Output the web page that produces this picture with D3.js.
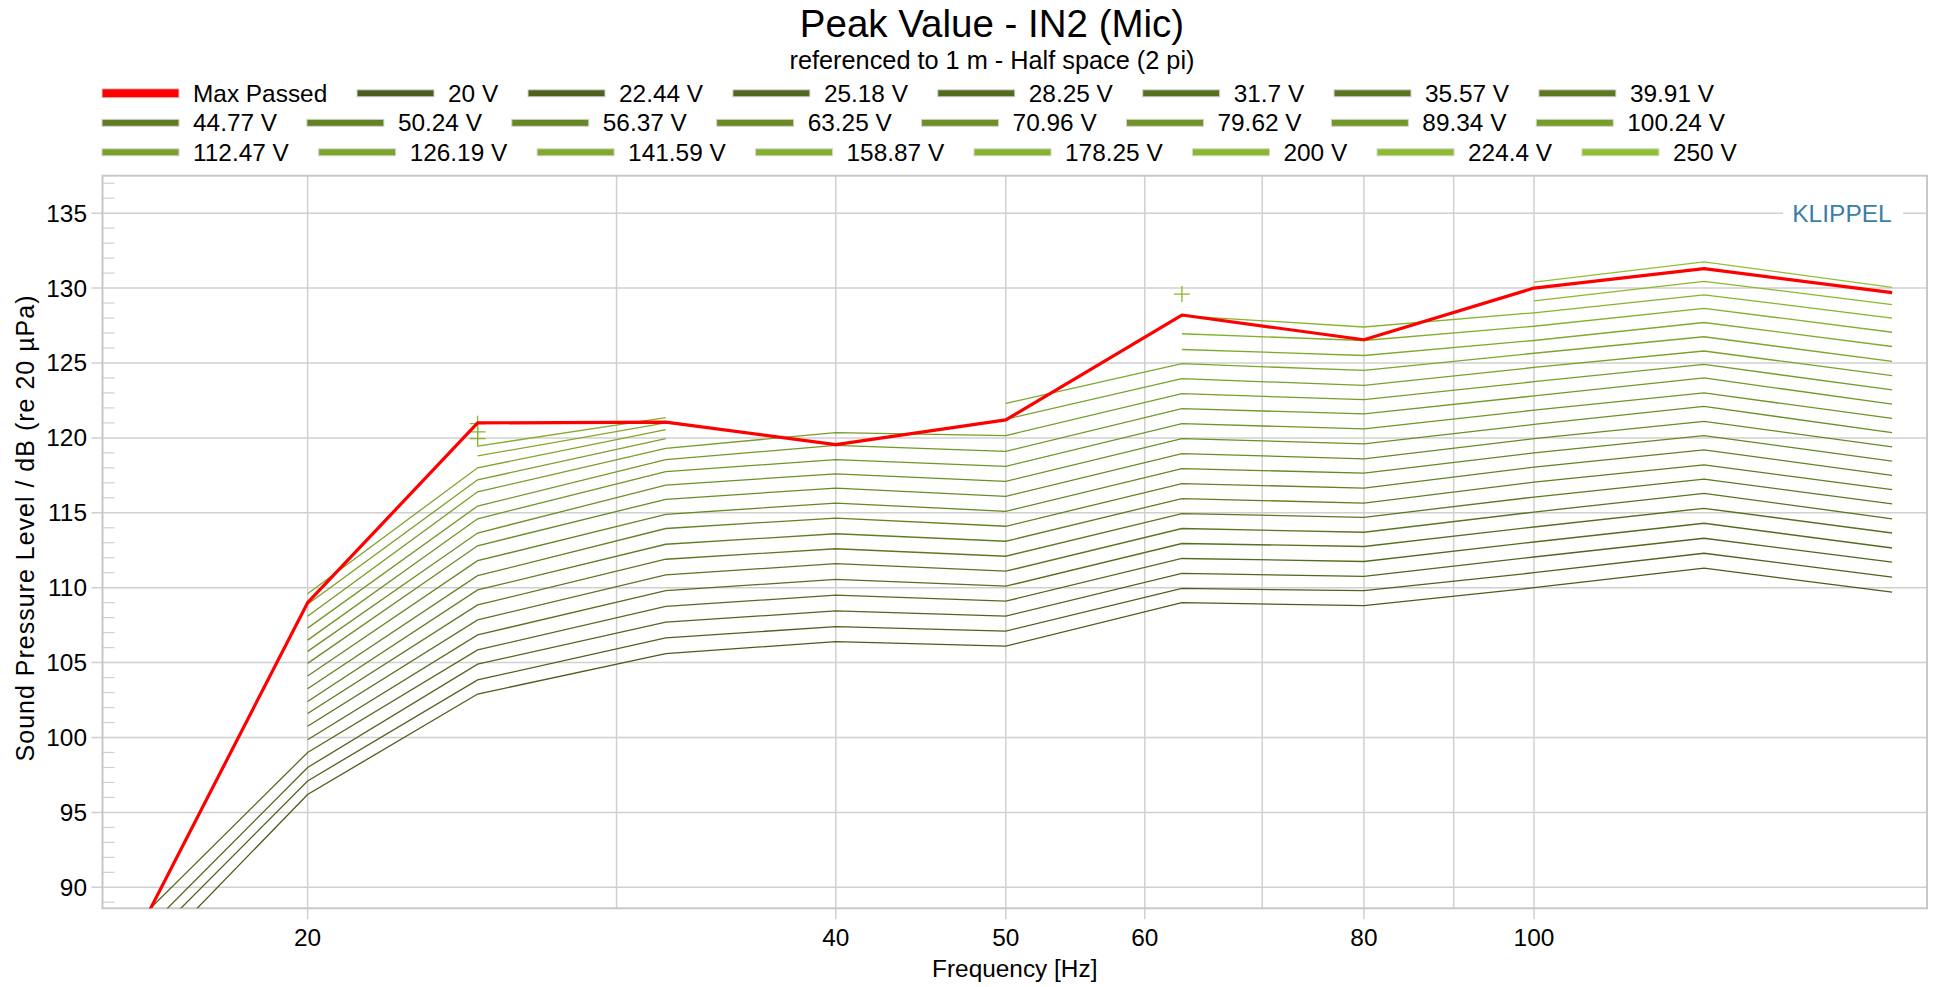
<!DOCTYPE html>
<html>
<head>
<meta charset="utf-8">
<script src="https://cdn.jsdelivr.net/npm/d3@7"></script>
<style>
  body { margin: 0; background: #fff; }
  svg { font-family: "Liberation Sans", Arial, sans-serif; }
</style>
</head>
<body>
<div id="chart"></div>
<script>
// Frequencies of the measured points (Hz)
const freqs = [16, 20, 25, 32, 40, 50, 63, 80, 100, 125, 160];

// Legend / series names
const voltages = ["20 V", "22.44 V", "25.18 V", "28.25 V", "31.7 V", "35.57 V", "39.91 V",
    "44.77 V", "50.24 V", "56.37 V", "63.25 V", "70.96 V", "79.62 V", "89.34 V", "100.24 V",
    "112.47 V", "126.19 V", "141.59 V", "158.87 V", "178.25 V", "200 V", "224.4 V", "250 V"];

// Max Passed curve (dB)
const maxPassed = [86.9, 109.0, 121.0, 121.05, 119.55, 121.2, 128.2, 126.55, 130.0, 131.3, 129.7];

// Peak SPL per voltage (dB), null = no valid measurement at that frequency
const splByVoltage = [
    [84.5, 96.2, 102.9, 105.6, 106.4, 106.1, 109.0, 108.8, 110.0, 111.3, 109.7],
    [85.7, 97.1, 103.85, 106.65, 107.4, 107.1, 109.95, 109.8, 111.0, 112.3, 110.7],
    [86.6, 98.0, 104.9, 107.7, 108.45, 108.1, 110.95, 110.75, 112.05, 113.3, 111.7],
    [87.75, 99.0, 105.85, 108.75, 109.5, 109.1, 111.95, 111.75, 113.05, 114.3, 112.65],
    [null, 99.85, 106.85, 109.8, 110.55, 110.1, 112.95, 112.75, 114.05, 115.3, 113.65],
    [null, 100.75, 107.85, 110.85, 111.6, 111.1, 113.95, 113.7, 115.05, 116.3, 114.6],
    [null, 101.6, 108.85, 111.9, 112.6, 112.1, 114.95, 114.7, 116.05, 117.25, 115.6],
    [null, 102.4, 109.85, 112.9, 113.6, 113.1, 115.95, 115.65, 117.05, 118.2, 116.55],
    [null, 103.25, 110.8, 113.95, 114.65, 114.1, 116.95, 116.65, 118.05, 119.2, 117.5],
    [null, 104.1, 111.8, 114.9, 115.65, 115.1, 117.95, 117.65, 119.0, 120.15, 118.45],
    [null, 104.95, 112.8, 115.9, 116.65, 116.1, 118.95, 118.6, 119.95, 121.1, 119.4],
    [null, 105.75, 113.65, 116.85, 117.6, 117.1, 119.95, 119.6, 120.9, 122.1, 120.35],
    [null, 106.5, 114.6, 117.75, 118.55, 118.1, 120.95, 120.6, 121.85, 123.0, 121.3],
    [null, 107.3, 115.45, 118.55, 119.5, 119.1, 121.95, 121.6, 122.8, 124.0, 122.25],
    [null, 108.1, 116.4, 119.3, 120.35, 120.15, 122.95, 122.55, 123.75, 124.9, 123.2],
    [null, 108.9, 117.2, 119.95, null, 121.25, 123.95, 123.5, 124.7, 125.8, 124.15],
    [null, 109.6, 118.0, 120.55, null, 122.3, 124.95, 124.5, 125.65, 126.75, 125.1],
    [null, null, 118.8, 121.0, null, null, 125.9, 125.5, 126.5, 127.7, 126.1],
    [null, null, 119.45, 121.35, null, null, 126.95, 126.5, 127.45, 128.65, 127.05],
    [null, null, 119.95, null, null, null, 128.15, 127.4, 128.35, 129.55, 128.0],
    [null, null, 120.4, null, null, null, 129.6, null, 129.15, 130.45, 128.9],
    [null, null, 120.95, null, null, null, null, null, 130.0, 131.3, 129.7],
    [null, null, null, null, null, null, null, null, 130.4, 131.75, 130.05]
];

// Axis ticks
const xLabelTicks = [20, 40, 50, 60, 80, 100];
const xGridTicks = [20, 30, 40, 50, 60, 70, 80, 90, 100];
const yTicks = [90, 95, 100, 105, 110, 115, 120, 125, 130, 135];

const width = 1933, height = 987;
const plot = { left: 102.5, right: 1927, top: 175.7, bottom: 908.3 };
const gridColor = "#d0d0d0";
const font = "24.4px";

const x = d3.scaleLog().domain([15.28, 167.5]).range([plot.left, plot.right]);
const y = d3.scaleLinear().domain([88.6, 137.5]).range([plot.bottom, plot.top]);
const color = i => d3.interpolateRgb("#4b5d1c", "#8fc12f")(i / (voltages.length - 1));

const svg = d3.select("#chart").append("svg")
    .attr("width", width)
    .attr("height", height);

// Titles
svg.append("text")
    .attr("x", 992).attr("y", 37)
    .attr("text-anchor", "middle")
    .style("font-size", "38.5px")
    .text("Peak Value - IN2 (Mic)");

svg.append("text")
    .attr("x", 992).attr("y", 69)
    .attr("text-anchor", "middle")
    .style("font-size", "25.3px")
    .text("referenced to 1 m - Half space (2 pi)");

// Legend (flow layout)
const legendItems = [{ name: "Max Passed", color: "#ff0000", h: 9 }]
    .concat(voltages.map((v, i) => ({ name: v, color: color(i), h: 7 })));
const legend = svg.append("g");
let lx = 102, ly = 93.3;
legendItems.forEach(item => {
    const g = legend.append("g");
    const t = g.append("text")
        .attr("x", lx + 91).attr("y", ly)
        .attr("dominant-baseline", "central")
        .style("font-size", font)
        .text(item.name);
    const w = 91 + t.node().getComputedTextLength();
    if (lx + w > 1880) {
        lx = 102; ly += 29.5;
        t.attr("x", lx + 91).attr("y", ly);
    }
    g.append("rect")
        .attr("x", lx).attr("y", ly - item.h / 2)
        .attr("width", 77).attr("height", item.h)
        .attr("fill", item.color)
        .attr("stroke", "#d4d4d4").attr("stroke-width", 1);
    lx += w + 29.8;
});

// Grid
const grid = svg.append("g");
grid.selectAll(".hg").data(yTicks).enter().append("line")
    .attr("x1", plot.left - 11).attr("x2", plot.right)
    .attr("y1", d => y(d)).attr("y2", d => y(d))
    .attr("stroke", gridColor).attr("stroke-width", 1.5);
grid.selectAll(".vg").data(xGridTicks).enter().append("line")
    .attr("x1", d => x(d)).attr("x2", d => x(d))
    .attr("y1", plot.top).attr("y2", d => xLabelTicks.includes(d) ? plot.bottom + 11 : plot.bottom)
    .attr("stroke", gridColor).attr("stroke-width", 1.5);

// minor y ticks every 1 dB
grid.selectAll(".mt").data(d3.range(89, 138).filter(d => d % 5 !== 0)).enter().append("line")
    .attr("x1", plot.left).attr("x2", plot.left + 12)
    .attr("y1", d => y(d)).attr("y2", d => y(d))
    .attr("stroke", gridColor).attr("stroke-width", 1.2);

// Frame
svg.append("rect")
    .attr("x", plot.left).attr("y", plot.top)
    .attr("width", plot.right - plot.left).attr("height", plot.bottom - plot.top)
    .attr("fill", "none").attr("stroke", "#c8c8c8").attr("stroke-width", 2);

// KLIPPEL mark
svg.append("rect")
    .attr("x", 1783).attr("y", y(135) - 15).attr("width", 120).attr("height", 30)
    .attr("fill", "#fff");
svg.append("text")
    .attr("x", 1842).attr("y", y(135))
    .attr("text-anchor", "middle").attr("dominant-baseline", "central")
    .style("font-size", "24.5px").attr("fill", "#3b7ea8")
    .text("KLIPPEL");

// Axis labels
svg.append("g").selectAll("text").data(yTicks).enter().append("text")
    .attr("x", 87).attr("y", d => y(d))
    .attr("text-anchor", "end").attr("dominant-baseline", "central")
    .style("font-size", font)
    .text(d => d);

svg.append("g").selectAll("text").data(xLabelTicks).enter().append("text")
    .attr("x", d => x(d)).attr("y", 946)
    .attr("text-anchor", "middle")
    .style("font-size", font)
    .text(d => d);

svg.append("text")
    .attr("x", (plot.left + plot.right) / 2).attr("y", 977)
    .attr("text-anchor", "middle")
    .style("font-size", font)
    .text("Frequency [Hz]");

svg.append("text")
    .attr("transform", "translate(34, 528) rotate(-90)")
    .attr("text-anchor", "middle")
    .style("font-size", "25px")
    .style("letter-spacing", "1px")
    .text("Sound Pressure Level / dB (re 20 µPa)");

// Curves
svg.append("clipPath").attr("id", "clip")
    .append("rect")
    .attr("x", plot.left).attr("y", plot.top)
    .attr("width", plot.right - plot.left).attr("height", plot.bottom - plot.top);

const plotArea = svg.append("g").attr("clip-path", "url(#clip)");

const line = d3.line()
    .defined(d => d[1] !== null)
    .x(d => x(d[0]))
    .y(d => y(d[1]));

splByVoltage.forEach((vals, i) => {
    const pts = freqs.map((f, j) => [f, vals[j]]);
    plotArea.append("path")
        .datum(pts)
        .attr("d", line)
        .attr("fill", "none")
        .attr("stroke", color(i))
        .attr("stroke-width", 1.3);

    // isolated points drawn as "+" markers
    const lonely = pts.filter((p, j) => p[1] !== null &&
        (j === 0 || vals[j - 1] === null) && (j === vals.length - 1 || vals[j + 1] === null));
    plotArea.selectAll(null).data(lonely).enter().append("path")
        .attr("d", d => `M${x(d[0]) - 8},${y(d[1])}h16M${x(d[0])},${y(d[1]) - 8}v16`)
        .attr("stroke", color(i))
        .attr("stroke-width", 1.3);
});

plotArea.append("path")
    .datum(freqs.map((f, j) => [f, maxPassed[j]]))
    .attr("d", line)
    .attr("fill", "none")
    .attr("stroke", "#ff0000")
    .attr("stroke-width", 3.2)
    .attr("stroke-linejoin", "round");
</script>
</body>
</html>
